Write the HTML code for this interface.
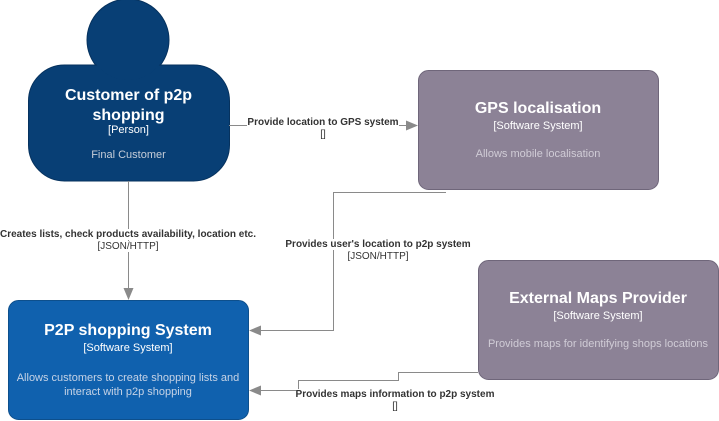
<!DOCTYPE html>
<html><head><meta charset="utf-8"><style>
body{margin:0;width:719px;height:421px;background:#fff;position:relative;overflow:hidden;font-family:"Liberation Sans",Arial,sans-serif}
.t{position:absolute;text-align:center}
</style></head><body>
<svg width="719" height="421" style="position:absolute;left:0;top:0">
<defs><marker id="a" markerWidth="12" markerHeight="12" refX="11" refY="6" orient="auto" markerUnits="userSpaceOnUse"><path d="M0,1 L12,6 L0,11 Z" fill="#8a8a8a"/></marker></defs>
<circle cx="128" cy="40" r="41" fill="#083f75" stroke="#06325e"/>
<rect x="28.5" y="65" width="201" height="116" rx="36" fill="#083f75" stroke="#06325e"/>
<circle cx="128" cy="40" r="40" fill="#083f75"/>
<rect x="418.5" y="70.5" width="240" height="119" rx="10" fill="#8c8296" stroke="#6f667a"/>
<rect x="478.5" y="260.5" width="240" height="119" rx="10" fill="#8c8296" stroke="#6f667a"/>
<rect x="8.5" y="300.5" width="240" height="119" rx="10" fill="#1061ae" stroke="#0d4f8c"/>
<g fill="none" stroke="#8a8a8a" stroke-width="1">
<path d="M229,125.5 H417" marker-end="url(#a)"/>
<path d="M128.5,181 V299" marker-end="url(#a)"/>
<path d="M446,192.5 H333.5 V330.5 H250" marker-end="url(#a)"/>
<path d="M478,372.5 H398.5 V380.5 H298.5 V390.5 H250" marker-end="url(#a)"/>
</g>
</svg>
<div class="t" style="left:28px;width:201px;top:86px;color:#fff;font-weight:bold;font-size:16px;line-height:20px">Customer of p2p shopping</div>
<div class="t" style="left:28px;width:201px;top:124px;color:#fff;font-size:11px">[Person]</div>
<div class="t" style="left:28px;width:201px;top:149px;color:#c6cdd8;font-size:11px">Final Customer</div>
<div class="t" style="left:418px;width:240px;top:100px;color:#fff;font-weight:bold;font-size:16px">GPS localisation</div>
<div class="t" style="left:418px;width:240px;top:120px;color:#fff;font-size:11px">[Software System]</div>
<div class="t" style="left:418px;width:240px;top:148px;color:#d0ccd6;font-size:11px">Allows mobile localisation</div>
<div class="t" style="left:478px;width:240px;top:290px;color:#fff;font-weight:bold;font-size:16px">External Maps Provider</div>
<div class="t" style="left:478px;width:240px;top:310px;color:#fff;font-size:11px">[Software System]</div>
<div class="t" style="left:478px;width:240px;top:338px;color:#d0ccd6;font-size:11px">Provides maps for identifying shops locations</div>
<div class="t" style="left:8px;width:240px;top:322px;color:#fff;font-weight:bold;font-size:16px">P2P shopping System</div>
<div class="t" style="left:8px;width:240px;top:342px;color:#fff;font-size:11px">[Software System]</div>
<div class="t" style="left:8px;width:240px;top:371px;color:#c6d3e6;font-size:11px;line-height:14px">Allows customers to create shopping lists and interact with p2p shopping</div>
<div class="t" style="left:223px;width:200px;top:117px;color:#333;font-size:10px;line-height:12px;font-weight:bold"><span style="background:#fff">Provide location to GPS system</span><br><span style="background:#fff;font-weight:normal">[]</span></div>
<div class="t" style="left:-2px;width:260px;top:229px;color:#333;font-size:10px;line-height:12px"><span style="background:#fff;font-weight:bold">Creates lists, check products availability, location etc.</span><br><span style="background:#fff">[JSON/HTTP]</span></div>
<div class="t" style="left:268px;width:220px;top:239px;color:#333;font-size:10px;line-height:12px"><span style="background:#fff;font-weight:bold">Provides user's location to p2p system</span><br><span style="background:#fff">[JSON/HTTP]</span></div>
<div class="t" style="left:285px;width:220px;top:389px;color:#333;font-size:10px;line-height:12px"><span style="background:#fff;font-weight:bold">Provides maps information to p2p system</span><br><span style="background:#fff">[]</span></div>
</body></html>
